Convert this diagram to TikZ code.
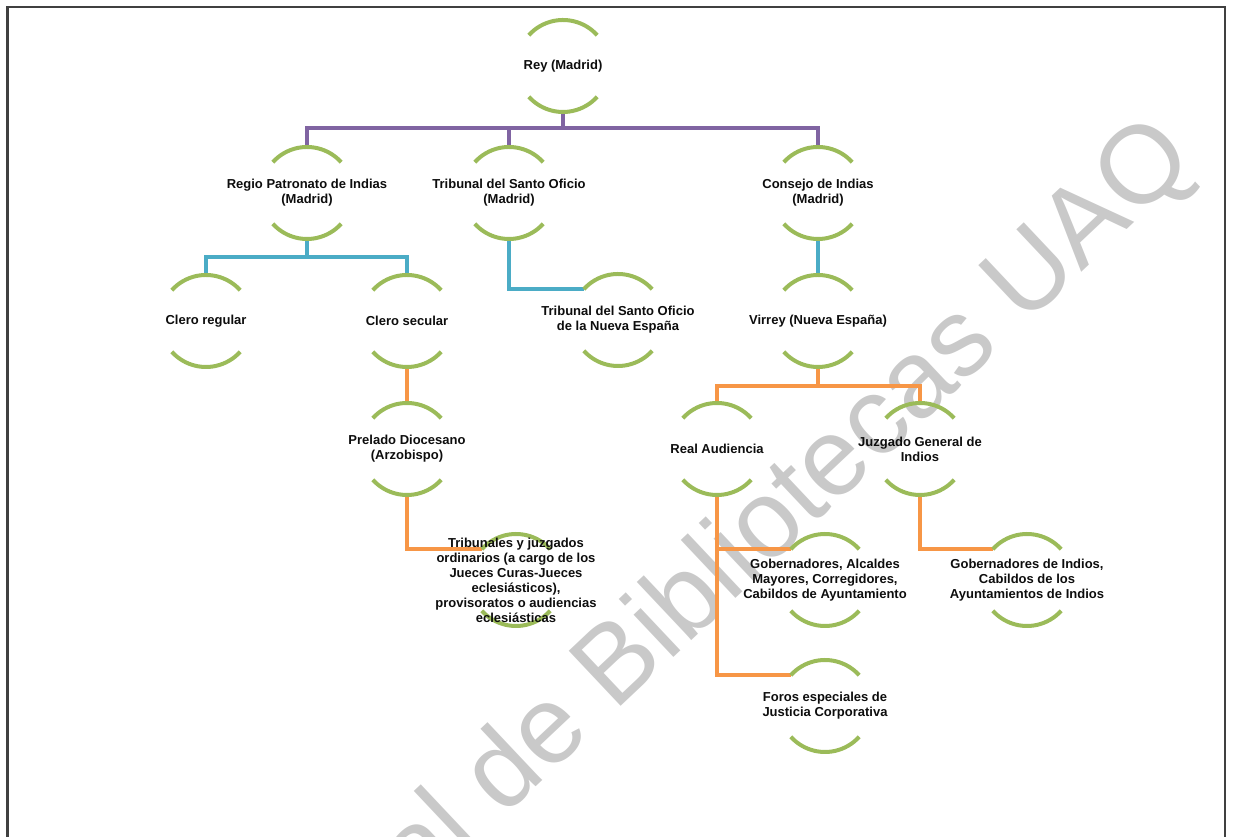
\documentclass[tikz,border=0pt]{standalone}
\usepackage{fontspec}
\setmainfont{Liberation Sans}
\definecolor{arcgreen}{HTML}{9BBB59}
\definecolor{purp}{HTML}{8064A2}
\definecolor{aqua}{HTML}{4BACC6}
\definecolor{orng}{HTML}{F79646}
\begin{document}
\begin{tikzpicture}[x=1pt,y=1pt,
  hub/.style={circle,minimum size=92pt,inner sep=0pt,outer sep=0pt},
  lbl/.style={align=center,inner sep=0pt,font=\bfseries\fontsize{13}{15}\selectfont,text=black!95},
  arcline/.style={draw=arcgreen,line width=4pt},
  link/.style={line width=4pt},
  plink/.style={link,draw=purp},
  blink/.style={link,draw=aqua},
  olink/.style={link,draw=orng},
  frameline/.style={draw=black!75,line width=2.5pt},
  wmark/.style={anchor=base west,inner sep=0pt,rotate=43.3,text=black!21,font=\fontsize{110}{110}\selectfont}]
\useasboundingbox (0,0) rectangle (1233,837);
\begin{scope}
  \clip (0,0) rectangle (1233,837);
  \node[wmark] (wm) at (419,-60) {al de Bibliotecas UAQ};
  \draw[frameline] (7.5,-20) rectangle (1225,830);
\end{scope}
% hubs
\node[hub] (rey) at (563,771) {};
\node[hub] (regio) at (307,644) {};
\node[hub] (tso) at (509,644) {};
\node[hub] (consejo) at (818,644) {};
\node[hub] (clreg) at (206,516) {};
\node[hub] (clsec) at (407,516) {};
\node[hub] (tsone) at (618,517) {};
\node[hub] (virrey) at (818,516) {};
\node[hub] (prelado) at (407,388) {};
\node[hub] (realaud) at (717,388) {};
\node[hub] (juzgado) at (920,388) {};
\node[hub] (tribord) at (516,257) {};
\node[hub] (gob) at (825,257) {};
\node[hub] (gobind) at (1027,257) {};
\node[hub] (foros) at (825,131) {};
% bus points
\coordinate (busR) at (563,709);
\coordinate (busP) at (307,580);
\coordinate (busV) at (818,451);
% connectors
\draw[plink] (rey.south) -- (busR);
\draw[plink] (busR) -| (regio.north);
\draw[plink] (busR) -| (tso.north);
\draw[plink] (busR) -| (consejo.north);
\draw[blink] (regio.south) -- (busP);
\draw[blink] (busP) -| (clreg.north);
\draw[blink] (busP) -| (clsec.north);
\draw[blink] (tso.south) |- (tsone.138);
\draw[blink] (consejo.south) -- (virrey.north);
\draw[olink] (virrey.south) -- (busV);
\draw[olink] (busV) -| (realaud.north);
\draw[olink] (busV) -| (juzgado.north);
\draw[olink] (clsec.south) -- (prelado.north);
\draw[olink] (prelado.south) |- (tribord.138);
\draw[olink] (realaud.south) |- (gob.138);
\draw[olink] (realaud.south) |- (foros.138);
\draw[olink] (juzgado.south) |- (gobind.138);
% arcs
\foreach \n in {rey,regio,tso,consejo,clreg,clsec,tsone,virrey,prelado,realaud,juzgado,tribord,gob,gobind,foros}{
  \draw[arcline] (\n.42) arc[start angle=42,end angle=138,radius=46];
  \draw[arcline] (\n.222) arc[start angle=222,end angle=318,radius=46];
}
% labels
\node[lbl] (reyT) at (rey) {Rey (Madrid)};
\node[lbl] (regioT) at (regio) {Regio Patronato de Indias\\(Madrid)};
\node[lbl] (tsoT) at (tso) {Tribunal del Santo Oficio\\(Madrid)};
\node[lbl] (consejoT) at (consejo) {Consejo de Indias\\(Madrid)};
\node[lbl] (clregT) at (clreg) {Clero regular};
\node[lbl] (clsecT) at (clsec) {Clero secular};
\node[lbl] (tsoneT) at (tsone) {Tribunal del Santo Oficio\\de la Nueva España};
\node[lbl] (virreyT) at (virrey) {Virrey (Nueva España)};
\node[lbl] (preladoT) at (prelado) {Prelado Diocesano\\(Arzobispo)};
\node[lbl] (realaudT) at (realaud) {Real Audiencia};
\node[lbl] (juzgadoT) at (juzgado) {Juzgado General de\\Indios};
\node[lbl] (tribordT) at (tribord) {Tribunales y juzgados\\ordinarios (a cargo de los\\Jueces Curas-Jueces\\eclesiásticos),\\provisoratos o audiencias\\eclesiásticas};
\node[lbl] (gobT) at (gob) {Gobernadores, Alcaldes\\Mayores, Corregidores,\\Cabildos de Ayuntamiento};
\node[lbl] (gobindT) at (gobind) {Gobernadores de Indios,\\Cabildos de los\\Ayuntamientos de Indios};
\node[lbl] (forosT) at (foros) {Foros especiales de\\Justicia Corporativa};
\end{tikzpicture}
\end{document}
